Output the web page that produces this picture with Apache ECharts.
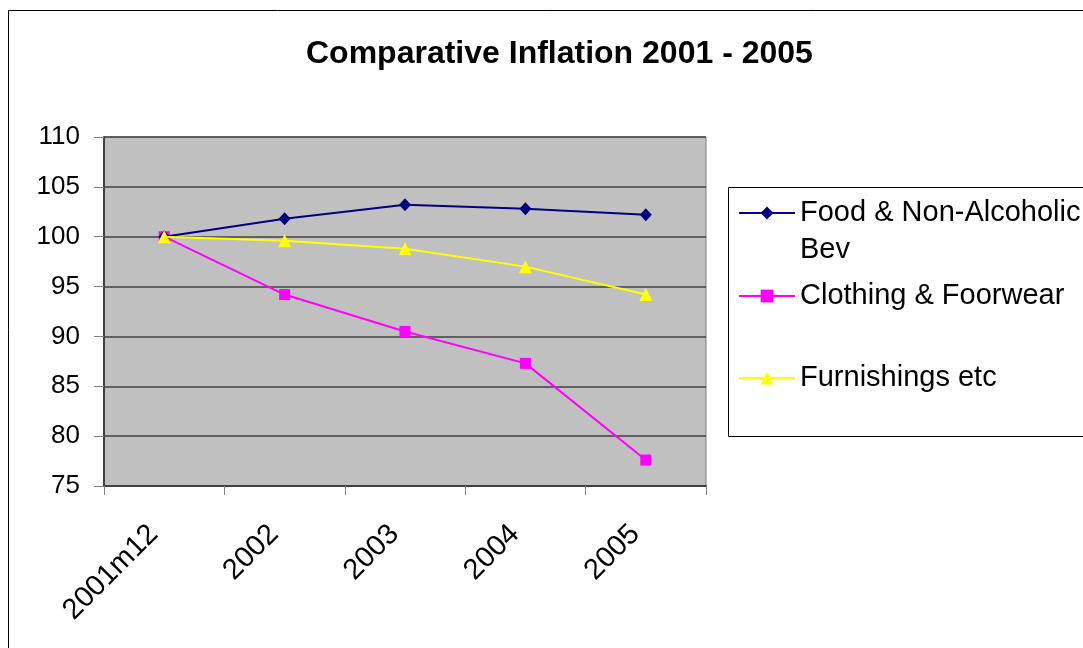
<!DOCTYPE html>
<html>
<head>
<meta charset="utf-8">
<script src="https://cdn.jsdelivr.net/npm/echarts@6/dist/echarts.min.js"></script>
<style>html,body{margin:0;padding:0;background:#fff}#c{width:1083px;height:648px}</style>
</head>
<body>
<div id="c"></div>
<script>
const categories = ['2001m12', '2002', '2003', '2004', '2005'];
const foodValues = [100, 101.8, 103.2, 102.8, 102.2];
const clothingValues = [100, 94.2, 90.5, 87.3, 77.6];
const furnishingsValues = [100, 99.6, 98.8, 97.0, 94.2];
const seriesNames = ['Food & Non-Alcoholic Bev', 'Clothing & Foorwear', 'Furnishings etc'];
const yTicks = [75, 80, 85, 90, 95, 100, 105, 110];

const FONT = 'Liberation Sans, Arial, sans-serif';
const chart = echarts.init(document.getElementById('c'), null, {renderer: 'canvas'});

const legendText = {fontFamily: FONT, fontSize: 29, color: '#000', lineHeight: 37};

chart.setOption({
  animation: false,
  backgroundColor: '#fff',
  title: {
    text: 'Comparative Inflation 2001 - 2005',
    left: 301, top: 33,
    textStyle: {fontFamily: FONT, fontSize: 32, fontWeight: 'bold', color: '#000'}
  },
  graphic: [
    {type: 'rect', shape: {x: 8.5, y: 10.5, width: 1200, height: 800}, style: {fill: null, stroke: '#000', lineWidth: 1}, z: -10},
    {type: 'rect', shape: {x: 728.5, y: 187.5, width: 500, height: 249}, style: {fill: '#fff', stroke: '#000', lineWidth: 1}, z: -5}
  ],
  legend: [
    {data: [seriesNames[0]], left: 738, top: 157.5, padding: 0, itemWidth: 56, itemHeight: 16,
     formatter: () => '\nFood & Non-Alcoholic\nBev',
     textStyle: legendText},
    {data: [seriesNames[1]], left: 738, top: 277.5, padding: 0, itemWidth: 56, itemHeight: 16, textStyle: legendText},
    {data: [seriesNames[2]], left: 738, top: 359.5, padding: 0, itemWidth: 56, itemHeight: 16, textStyle: legendText}
  ],
  grid: {
    left: 104, right: 377, top: 137, bottom: 162,
    show: true, backgroundColor: '#C0C0C0', borderColor: '#808080', borderWidth: 1
  },
  xAxis: {
    type: 'category',
    data: categories,
    boundaryGap: true,
    axisLine: {show: true, lineStyle: {color: '#404040', width: 2}},
    axisTick: {show: true, interval: 0, length: 9, lineStyle: {color: '#808080', width: 1}},
    axisLabel: {rotate: 45, margin: 33, padding: [0, 15, 0, 0], fontFamily: FONT, fontSize: 29, color: '#000', interval: 0},
    splitLine: {show: false}
  },
  yAxis: {
    type: 'value',
    min: yTicks[0], max: yTicks[yTicks.length - 1], interval: 5,
    axisLine: {show: true, lineStyle: {color: '#404040', width: 2}},
    axisTick: {show: true, length: 10, lineStyle: {color: '#808080', width: 1}},
    axisLabel: {margin: 24, fontFamily: FONT, fontSize: 26, color: '#000'},
    splitLine: {show: true, lineStyle: {color: '#404040', width: 1.5}}
  },
  series: [
    {name: seriesNames[0], type: 'line', data: foodValues, symbol: 'diamond', symbolSize: [12, 13],
     itemStyle: {color: '#000080'}, lineStyle: {color: '#000080', width: 2}, z: 3},
    {name: seriesNames[1], type: 'line', data: clothingValues, symbol: 'rect', symbolSize: 11,
     itemStyle: {color: '#FF00FF'}, lineStyle: {color: '#FF00FF', width: 2}, z: 2},
    {name: seriesNames[2], type: 'line', data: furnishingsValues, symbol: 'triangle', symbolSize: 13,
     itemStyle: {color: '#FFFF00'}, lineStyle: {color: '#FFFF00', width: 2}, z: 4}
  ]
});
</script>
</body>
</html>
